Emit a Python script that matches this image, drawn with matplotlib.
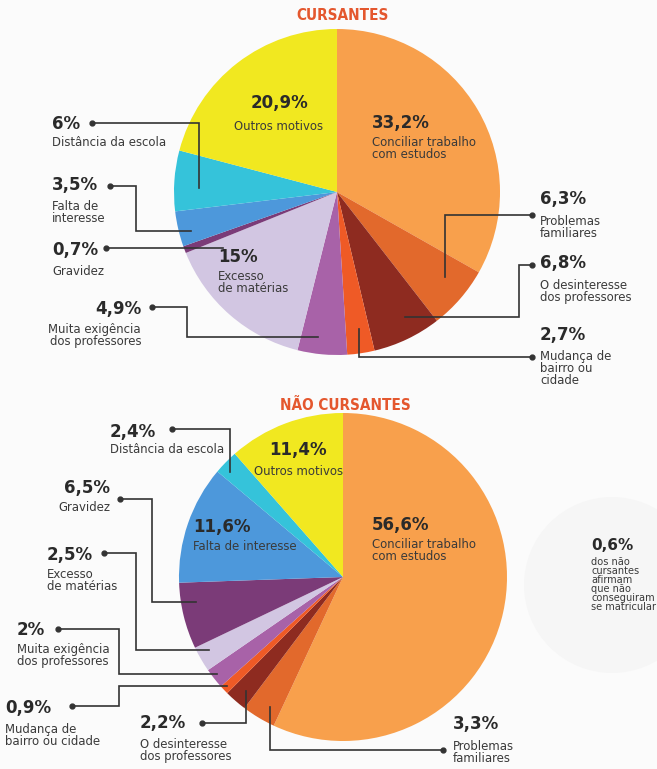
import numpy as np
import matplotlib
matplotlib.use('Agg')
import matplotlib.pyplot as plt
from matplotlib import font_manager
from matplotlib.font_manager import FontProperties
from matplotlib.patches import Circle

W, H = 657, 769

# --- dados ---
titulo_1 = 'CURSANTES'
titulo_2 = 'NÃO CURSANTES'

rotulos_cursantes = ['Conciliar trabalho\ncom estudos', 'Problemas\nfamiliares',
                     'O desinteresse\ndos professores', 'Mudança de\nbairro ou\ncidade',
                     'Muita exigência\ndos professores', 'Excesso\nde matérias', 'Gravidez',
                     'Falta de\ninteresse', 'Distância da escola', 'Outros motivos']
rotulos_nao_cursantes = ['Conciliar trabalho\ncom estudos', 'Problemas\nfamiliares',
                         'O desinteresse\ndos professores', 'Mudança de\nbairro ou cidade',
                         'Muita exigência\ndos professores', 'Excesso\nde matérias', 'Gravidez',
                         'Falta de interesse', 'Distância da escola', 'Outros motivos']
cursantes = [33.2, 6.3, 6.8, 2.7, 4.9, 15, 0.7, 3.5, 6, 20.9]
nao_cursantes = [56.6, 3.3, 2.2, 0.9, 2, 2.5, 6.5, 11.6, 2.4, 11.4]
nao_matricula = 0.6
texto_nota = 'dos não\ncursantes\nafirmam\nque não\nconseguiram\nse matricular'

cores = ['#f8a04c', '#e2692c', '#8e2b20', '#ef5a26', '#a862a8',
         '#d2c6e2', '#7b3b78', '#4d98db', '#35c3da', '#f1e820']


# procura uma fonte condensada instalada (DejaVu Sans Condensed, se houver)
def acha_condensada(negrito):
    achadas = []
    for f in font_manager.fontManager.ttflist:
        nome = (f.name + ' ' + f.fname).lower()
        if ('condensed' in nome or 'narrow' in nome or f.stretch in ('condensed', 'semi-condensed')) \
                and 'italic' not in nome and 'oblique' not in nome and f.style == 'normal':
            peso = f.weight if isinstance(f.weight, int) else (700 if 'bold' in str(f.weight) else 400)
            achadas.append((abs(peso - (700 if negrito else 400)), f.fname))
    if not achadas:
        return None
    achadas.sort()
    return achadas[0][1]


fn_reg = acha_condensada(False)
fn_bold = acha_condensada(True)
FP_REG = FontProperties(fname=fn_reg) if fn_reg else FontProperties(family='DejaVu Sans')
FP_TIT = FontProperties(fname=fn_bold, weight='bold') if fn_bold else FontProperties(family='DejaVu Sans', weight='bold')
FP_PCT = FontProperties(family='DejaVu Sans', weight='bold')

COR_TXT = '#3a3a3a'
COR_PCT = '#2a2a2a'
COR_LINHA = '#333333'
COR_TIT = '#e4572e'

# posicoes em pixels: indice -> (x, y_pct, y_texto, ha)
layout_top = {
    0: (372, 123, 143, 'left'),
    1: (540, 199, 222, 'left'),
    2: (540, 263, 286, 'left'),
    3: (540, 335, 357, 'left'),
    4: (141, 309, 330, 'right'),
    5: (218, 257, 277, 'left'),
    6: (52, 250, 272, 'left'),
    7: (52, 185, 207, 'left'),
    8: (52, 124, 143, 'left'),
    9: (279, 103, 127, 'center'),
}
# indice -> (ponto, rota, cotovelo, fracao do angulo, fracao do raio)
linhas_top = {
    1: ((532, 215), 'hv', None, 0.38, 0.84),
    2: ((532, 265), 'hvh', 519, 0.38, 0.87),
    3: ((532, 357), 'hv', None, 0.42, 0.85),
    4: ((152, 307), 'hvh', 187, 0.62, 0.90),
    6: ((106, 248), 'h', None, 0.5, 0.75),
    7: ((110, 186), 'hvh', 136, 0.36, 0.93),
    8: ((92, 123), 'hv', None, 0.39, 0.85),
}

layout_bot = {
    0: (372, 525, 545, 'left'),
    1: (453, 724, 747, 'left'),
    2: (140, 723, 745, 'left'),
    3: (5, 708, 730, 'left'),
    4: (17, 630, 650, 'left'),
    5: (47, 555, 575, 'left'),
    6: (110, 488, 508, 'right'),
    7: (193, 527, 547, 'left'),
    8: (110, 432, 450, 'left'),
    9: (298, 450, 472, 'center'),
}
linhas_bot = {
    1: ((443, 750), 'hv', None, 0.36, 0.91),
    2: ((202, 723), 'hv', None, 0.43, 0.91),
    3: ((72, 706), 'hvh', 119, 0.6, 0.97),
    4: ((58, 629), 'hvh', 119, 0.56, 0.97),
    5: ((104, 553), 'hvh', 136, 0.64, 0.93),
    6: ((120, 499), 'hvh', 152, 0.67, 0.91),
    8: ((172, 429), 'hv', None, 0.35, 0.94),
}


def pct(v):
    return f'{v:g}'.replace('.', ',') + '%'


def desenha_pizza(ax, valores, rotulos, centro, raio, layout, linhas):
    wedges, _ = ax.pie(valores, colors=cores, startangle=-90, counterclock=True,
                       center=centro, radius=raio, wedgeprops=dict(linewidth=0))
    for i, (x, y_pct, y_txt, ha) in layout.items():
        ax.text(x, y_pct, pct(valores[i]), ha=ha, va='center', fontproperties=FP_PCT,
                fontsize=12, color=COR_PCT)
        ax.text(x, y_txt - 7, rotulos[i], ha=ha, va='top', fontproperties=FP_REG, fontsize=9.4,
                color=COR_TXT, linespacing=0.92, multialignment=ha)
    for i, (ponto, rota, cot, f, r) in linhas.items():
        w = wedges[i]
        th = np.radians(w.theta1 + f * (w.theta2 - w.theta1))
        xa = centro[0] + r * raio * np.cos(th)
        ya = centro[1] + r * raio * np.sin(th)
        if rota == 'h':
            pts = [ponto, (xa, ponto[1])]
        elif rota == 'hv':
            pts = [ponto, (xa, ponto[1]), (xa, ya)]
        else:
            pts = [ponto, (cot, ponto[1]), (cot, ya), (xa, ya)]
        xs, ys = zip(*pts)
        ax.plot(xs, ys, color=COR_LINHA, lw=1.2, solid_joinstyle='miter', zorder=5)
        ax.plot(*ponto, 'o', color=COR_LINHA, ms=3.5, zorder=6)


fig = plt.figure(figsize=(W / 100, H / 100), dpi=100)
fig.patch.set_facecolor('#fbfbfb')
ax = fig.add_axes([0, 0, 1, 1])

# circulo bem claro atras da nota
ax.add_patch(Circle((612, 585), 88, color='#f6f6f6', lw=0, zorder=0))

desenha_pizza(ax, cursantes, rotulos_cursantes, (337, 192), 163, layout_top, linhas_top)
desenha_pizza(ax, nao_cursantes, rotulos_nao_cursantes, (343, 577), 164, layout_bot, linhas_bot)

ax.text(343, 15, titulo_1, ha='center', va='center', fontproperties=FP_TIT, fontsize=11,
        color=COR_TIT)
ax.text(345, 405, titulo_2, ha='center', va='center', fontproperties=FP_TIT, fontsize=11,
        color=COR_TIT)

ax.text(591, 545, pct(nao_matricula), ha='left', va='center', fontproperties=FP_PCT,
        fontsize=11, color=COR_PCT)
ax.text(591, 557, texto_nota, ha='left', va='top', fontproperties=FP_REG, fontsize=7.8,
        color=COR_TXT, linespacing=0.88)

ax.set_xlim(0, W)
ax.set_ylim(H, 0)
ax.set_aspect('auto')
ax.axis('off')

fig.savefig('out.png', dpi=100, facecolor=fig.get_facecolor())
